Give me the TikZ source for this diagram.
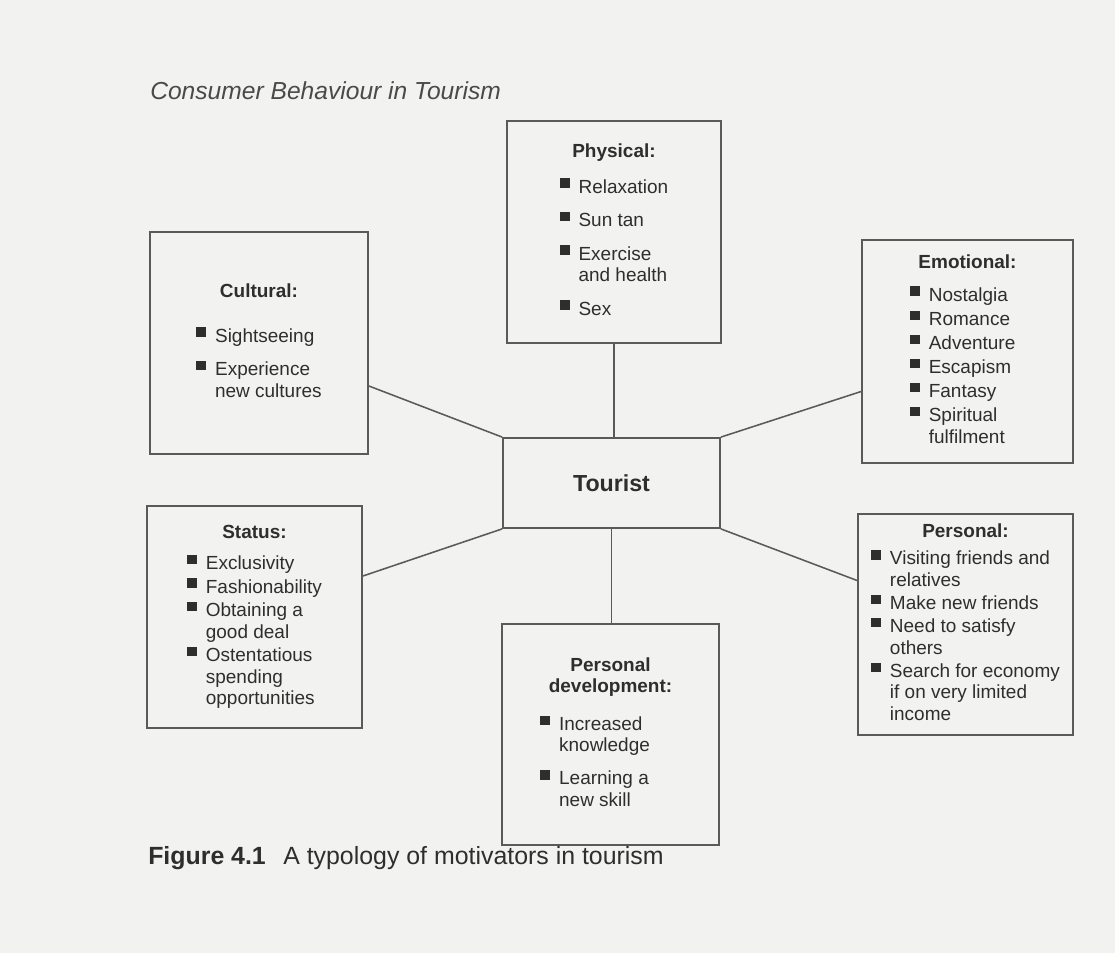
\documentclass[tikz,border=0pt]{standalone}
\usepackage{fontspec}
\setmainfont{Liberation Sans}
\usepackage{xcolor}
\usetikzlibrary{positioning,calc}
\definecolor{paper}{HTML}{F2F2F0}
\definecolor{ink}{HTML}{2E2E2E}
\definecolor{headink}{HTML}{4A4A4A}
\definecolor{framegray}{HTML}{5A5A5A}
\newcommand\sqb{\raisebox{0.27em}{\rule{0.52em}{0.5em}}}
\newcommand\mothead[1]{\multicolumn{2}{c}{\bfseries #1}}

\begin{document}
\begin{tikzpicture}[x=0.025cm,y=-0.025cm,
  motbox/.style={draw=framegray,line width=1.3pt,inner sep=0pt,text=ink,
    font=\fontsize{13.5}{15.3}\selectfont,align=center},
  link/.style={draw=framegray,line width=1.1pt}]
\useasboundingbox (0,0) rectangle (1115,952);
\fill[paper] (-5,-5) rectangle (1120,957);

\node[anchor=base west,inner sep=0pt,text=headink,font=\fontsize{17.5}{20}\selectfont\itshape] (runhead) at (150,100) {Consumer Behaviour in Tourism};

\node[motbox,minimum width=5.35cm,minimum height=5.55cm] (phys) at (614,232) {%
\begin{tabular}{@{}l@{\hspace{0.47em}}l@{}}
\mothead{Physical:}\\[0.35cm]
\sqb & Relaxation\\[0.3cm]
\sqb & Sun tan\\[0.3cm]
\sqb & Exercise\\
     & and health\\[0.3cm]
\sqb & Sex
\end{tabular}};

\node[motbox,minimum width=5.45cm,minimum height=5.55cm] (cult) at (259,343) {%
\begin{tabular}{@{}l@{\hspace{0.47em}}l@{}}
\mothead{Cultural:}\\[0.575cm]
\sqb & Sightseeing\\[0.3cm]
\sqb & Experience\\
     & new cultures
\end{tabular}};

\node[motbox,minimum width=5.275cm,minimum height=5.575cm] (emo) at (967.5,351.5) {%
\begin{tabular}{@{}l@{\hspace{0.47em}}l@{}}
\mothead{Emotional:}\\[0.275cm]
\sqb & Nostalgia\\[0.065cm]
\sqb & Romance\\[0.065cm]
\sqb & Adventure\\[0.065cm]
\sqb & Escapism\\[0.065cm]
\sqb & Fantasy\\[0.065cm]
\sqb & Spiritual\\
     & fulfilment
\end{tabular}};

\node[motbox,minimum width=5.425cm,minimum height=2.25cm,font=\fontsize{16.5}{19}\selectfont\bfseries] (tour) at (611.5,483) {Tourist};

\node[motbox,minimum width=5.375cm,minimum height=5.55cm] (stat) at (254.5,617) {%
\begin{tabular}{@{}l@{\hspace{0.47em}}l@{}}
\mothead{Status:}\\[0.25cm]
\sqb & Exclusivity\\[0.05cm]
\sqb & Fashionability\\[0.05cm]
\sqb & Obtaining a\\
     & good deal\\[0.05cm]
\sqb & Ostentatious\\
     & spending\\
     & opportunities
\end{tabular}};

\node[motbox,minimum width=5.375cm,minimum height=5.525cm] (pers) at (965.5,624.5) {%
\begin{tabular}{@{}l@{\hspace{0.47em}}l@{}}
\mothead{Personal:}\\[0.15cm]
\sqb & Visiting friends and\\
     & relatives\\[0.04cm]
\sqb & Make new friends\\[0.04cm]
\sqb & Need to satisfy\\
     & others\\[0.04cm]
\sqb & Search for economy\\
     & if on very limited\\
     & income
\end{tabular}};

\node[motbox,minimum width=5.425cm,minimum height=5.525cm] (pdev) at (610.5,734.5) {%
\begin{tabular}{@{}l@{\hspace{0.47em}}l@{}}
\mothead{Personal}\\
\mothead{development:}\\[0.4cm]
\sqb & Increased\\
     & knowledge\\[0.28cm]
\sqb & Learning a\\
     & new skill
\end{tabular}};

\draw[link] (phys.south) -- (phys.south |- tour.north);
\draw[link] ([yshift=-1.075cm]cult.east) -- (tour.north west);
\draw[link] (tour.north east) -- ([yshift=-1.0cm]emo.west);
\draw[link] ([yshift=1.025cm]stat.east) -- (tour.south west);
\draw[link] (tour.south east) -- ([yshift=1.1cm]pers.west);
\draw[link] (tour.south) -- (tour.south |- pdev.north);

\node[anchor=base west,inner sep=0pt,text=ink,font=\fontsize{17.7}{20}\selectfont] (figcap) at (148,864) {\textbf{Figure 4.1}\hspace{0.7em}A typology of motivators in tourism};
\end{tikzpicture}
\end{document}
